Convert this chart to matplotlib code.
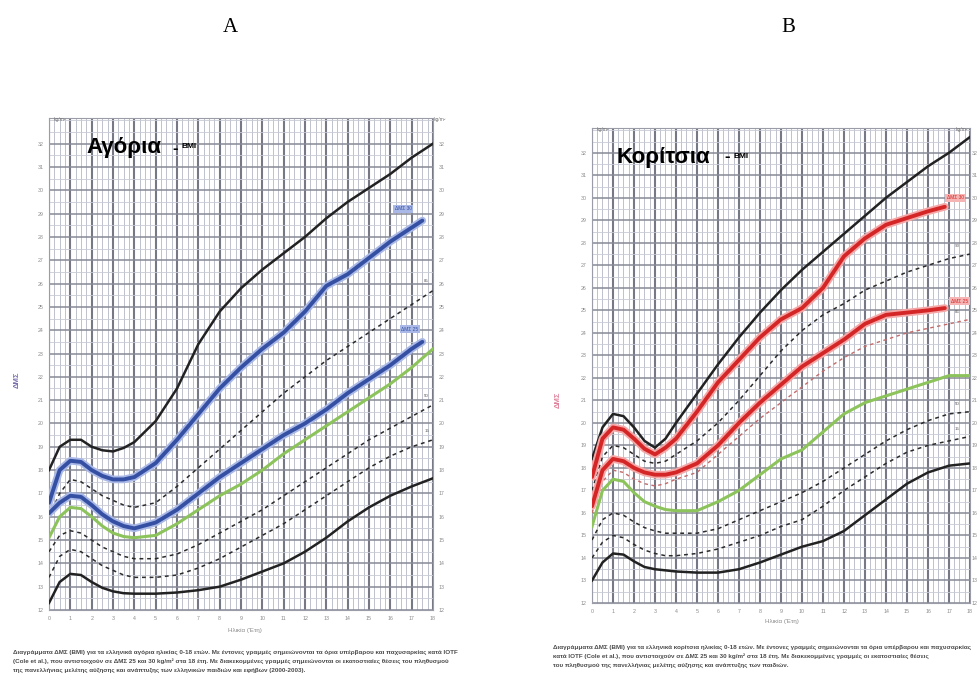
import matplotlib
matplotlib.use("Agg")
import matplotlib.pyplot as plt
import matplotlib.patheffects as pe
from matplotlib.ticker import MultipleLocator

W, H = 979, 692

# ages (years) shared by the percentile curves
ages = [0, 0.5, 1, 1.5, 2, 2.5, 3, 3.5, 4, 5, 6, 7, 8, 9, 10, 11, 12, 13, 14, 15, 16, 17, 18]
ages_iotf_boys = [0, 0.5, 1, 1.5, 2, 2.5, 3, 3.5, 4, 5, 6, 7, 8, 9, 10, 11, 12, 13, 14, 15, 16, 17, 17.5]
ages_iotf_girls = [0, 0.5, 1, 1.5, 2, 2.5, 3, 3.5, 4, 5, 6, 7, 8, 9, 10, 11, 12, 13, 14, 15, 16, 16.8]

bmi_ticks = list(range(12, 33))
age_ticks = list(range(0, 19))

# --- boys (A) ---
boys_p97 = [18.0, 19.0, 19.3, 19.3, 19.0, 18.85, 18.8, 18.95, 19.2, 20.1, 21.5, 23.4, 24.8, 25.8,
            26.6, 27.3, 28.0, 28.8, 29.5, 30.1, 30.7, 31.4, 32.0]
boys_iotf30 = [16.6, 18.0, 18.4, 18.35, 18.0, 17.75, 17.6, 17.6, 17.7, 18.3, 19.3, 20.4, 21.5, 22.4,
               23.2, 23.9, 24.8, 25.9, 26.4, 27.1, 27.8, 28.4, 28.7]
boys_p85 = [16.0, 17.0, 17.6, 17.5, 17.2, 16.9, 16.7, 16.5, 16.4, 16.6, 17.3, 18.1, 18.9, 19.7,
            20.5, 21.3, 22.0, 22.7, 23.3, 23.9, 24.5, 25.1, 25.7]
boys_iotf25 = [16.15, 16.6, 16.9, 16.85, 16.5, 16.1, 15.8, 15.6, 15.5, 15.75, 16.3, 17.0, 17.7, 18.3,
               18.9, 19.5, 20.0, 20.6, 21.3, 21.9, 22.5, 23.2, 23.5]
boys_green = [15.1, 16.0, 16.4, 16.35, 16.0, 15.6, 15.3, 15.15, 15.1, 15.2, 15.7, 16.3, 16.9, 17.4,
              18.0, 18.7, 19.3, 19.9, 20.5, 21.1, 21.7, 22.4, 23.2]
boys_p50 = [14.5, 15.2, 15.4, 15.3, 15.0, 14.7, 14.5, 14.3, 14.2, 14.2, 14.4, 14.8, 15.3, 15.8,
            16.3, 16.9, 17.5, 18.1, 18.7, 19.3, 19.8, 20.3, 20.8]
boys_p15 = [13.4, 14.3, 14.6, 14.5, 14.2, 13.9, 13.7, 13.5, 13.4, 13.4, 13.5, 13.8, 14.2, 14.7,
            15.2, 15.7, 16.3, 16.9, 17.5, 18.1, 18.6, 19.0, 19.3]
boys_p3 = [12.3, 13.2, 13.55, 13.5, 13.2, 12.95, 12.8, 12.72, 12.7, 12.7, 12.75, 12.85, 13.0, 13.3,
           13.65, 14.0, 14.5, 15.1, 15.8, 16.4, 16.9, 17.3, 17.65]

# --- girls (B) ---
girls_p97 = [18.4, 19.8, 20.4, 20.3, 19.8, 19.2, 18.9, 19.3, 20.0, 21.3, 22.6, 23.8, 24.9, 25.9,
             26.8, 27.6, 28.4, 29.2, 30.0, 30.7, 31.4, 32.0, 32.7]
girls_iotf30 = [17.6, 19.3, 19.8, 19.7, 19.3, 18.85, 18.6, 18.9, 19.3, 20.5, 21.8, 22.8, 23.8, 24.6,
                25.1, 26.0, 27.4, 28.2, 28.8, 29.1, 29.4, 29.6]
girls_p90 = [17.0, 18.5, 19.0, 18.9, 18.6, 18.3, 18.2, 18.3, 18.6, 19.2, 20.0, 21.0, 22.1, 23.2,
             24.1, 24.8, 25.3, 25.9, 26.3, 26.7, 27.0, 27.3, 27.5]
girls_iotf25 = [16.3, 17.9, 18.4, 18.3, 18.0, 17.8, 17.7, 17.7, 17.8, 18.2, 19.0, 20.0, 20.9, 21.7,
                22.5, 23.1, 23.7, 24.4, 24.8, 24.9, 25.0, 25.1]
girls_p85 = [16.0, 17.4, 17.9, 17.8, 17.5, 17.3, 17.2, 17.3, 17.5, 17.8, 18.6, 19.4, 20.2, 20.9,
             21.6, 22.3, 22.9, 23.4, 23.7, 24.0, 24.2, 24.4, 24.6]
girls_green = [15.4, 17.0, 17.5, 17.4, 16.9, 16.5, 16.3, 16.15, 16.1, 16.1, 16.5, 17.0, 17.7, 18.4,
               18.8, 19.6, 20.4, 20.9, 21.2, 21.5, 21.8, 22.1, 22.1]
girls_p50 = [14.8, 15.7, 16.0, 15.9, 15.6, 15.35, 15.2, 15.1, 15.1, 15.1, 15.3, 15.7, 16.1, 16.5,
             16.9, 17.4, 18.0, 18.6, 19.2, 19.7, 20.1, 20.4, 20.5]
girls_p15 = [14.0, 14.7, 15.0, 14.9, 14.6, 14.35, 14.2, 14.1, 14.1, 14.2, 14.4, 14.7, 15.0, 15.4,
             15.7, 16.3, 17.0, 17.6, 18.2, 18.7, 19.0, 19.2, 19.4]
girls_p3 = [13.0, 13.8, 14.2, 14.15, 13.85, 13.6, 13.5, 13.45, 13.4, 13.35, 13.35, 13.5, 13.8, 14.15,
            14.5, 14.75, 15.2, 15.9, 16.6, 17.3, 17.8, 18.1, 18.2]

note_boys = [
    "Διαγράμματα ΔΜΣ (BMI) για τα ελληνικά αγόρια ηλικίας 0-18 ετών. Με έντονες γραμμές σημειώνονται τα όρια υπέρβαρου και παχυσαρκίας κατά IOTF",
    "(Cole et al.), που αντιστοιχούν σε ΔΜΣ 25 και 30 kg/m² στα 18 έτη. Με διακεκομμένες γραμμές σημειώνονται οι εκατοστιαίες θέσεις του πληθυσμού",
    "της πανελλήνιας μελέτης αύξησης και ανάπτυξης των ελληνικών παιδιών και εφήβων (2000-2003).",
]
note_girls = [
    "Διαγράμματα ΔΜΣ (BMI) για τα ελληνικά κορίτσια ηλικίας 0-18 ετών. Με έντονες γραμμές σημειώνονται τα όρια υπέρβαρου και παχυσαρκίας",
    "κατά IOTF (Cole et al.), που αντιστοιχούν σε ΔΜΣ 25 και 30 kg/m² στα 18 έτη. Με διακεκομμένες γραμμές οι εκατοστιαίες θέσεις",
    "του πληθυσμού της πανελλήνιας μελέτης αύξησης και ανάπτυξης των παιδιών.",
]

plt.rcParams['font.family'] = ['Liberation Sans', 'DejaVu Sans']


def px_rect(left, top, right, bottom):
    return [left / W, 1 - bottom / H, (right - left) / W, (bottom - top) / H]


def setup_grid(ax, right_pad=4):
    ax.set_xlim(0, 18)
    ax.set_ylim(12, 33.1)
    ax.xaxis.set_major_locator(MultipleLocator(1))
    ax.xaxis.set_minor_locator(MultipleLocator(0.25))
    ax.yaxis.set_major_locator(MultipleLocator(1))
    ax.yaxis.set_minor_locator(MultipleLocator(0.5))
    ax.xaxis.grid(which='major', color='#767985', lw=1.5, zorder=0)
    ax.xaxis.grid(which='minor', color='#bfc2cc', lw=0.7, zorder=0)
    ax.yaxis.grid(which='major', color='#878a96', lw=1.1, zorder=0)
    ax.yaxis.grid(which='minor', color='#c8cbd4', lw=0.6, zorder=0)
    ax.set_xticks(age_ticks)
    ax.set_xticklabels([str(a) for a in age_ticks])
    ax.set_yticks(bmi_ticks)
    ax.set_yticklabels([str(b) for b in bmi_ticks])
    ax.tick_params(which='both', length=0, labelsize=3.8, labelcolor='#8a8a8a', pad=4)
    for s in ax.spines.values():
        s.set_color('#9a9da8')
        s.set_linewidth(0.8)
    ax.set_facecolor('white')
    # mirrored BMI scale on the right
    ax2 = ax.twinx()
    ax2.set_ylim(12, 33.1)
    ax2.set_yticks(bmi_ticks)
    ax2.set_yticklabels([str(b) for b in bmi_ticks])
    ax2.tick_params(length=0, labelsize=3.8, labelcolor='#8a8a8a', pad=right_pad)
    for s in ax2.spines.values():
        s.set_visible(False)


def thick(ax, x, y, color, halo):
    ax.plot(x, y, color=color, lw=2.8, solid_capstyle='round', zorder=4,
            path_effects=[pe.Stroke(linewidth=5.5, foreground=halo), pe.Normal()])


def dashed(ax, x, y, color='#2a2a2a', lw=1.1):
    ax.plot(x, y, color=color, lw=lw, ls=(0, (2.5, 2.5)), zorder=3)


fig = plt.figure(figsize=(W / 100, H / 100), dpi=100)

fig.text(230 / W, 1 - 28 / H, "A", ha='center', va='center', fontsize=15,
         family=['Liberation Serif', 'DejaVu Serif'])
fig.text(788 / W, 1 - 28 / H, "B", ha='center', va='center', fontsize=15,
         family=['Liberation Serif', 'DejaVu Serif'])

# ---------- boys ----------
axb = fig.add_axes(px_rect(49, 118, 433, 610))
setup_grid(axb)
axb.plot(ages, boys_p97, color='#222222', lw=1.8, zorder=4)
dashed(axb, ages, boys_p85)
dashed(axb, ages, boys_p50)
dashed(axb, ages, boys_p15)
axb.plot(ages, boys_green, color='#8cc35a', lw=2.2, zorder=4)
axb.plot(ages, boys_p3, color='#222222', lw=1.8, zorder=4)
thick(axb, ages_iotf_boys, boys_iotf30, '#3550a3', '#a9b8e6')
thick(axb, ages_iotf_boys, boys_iotf25, '#3550a3', '#a9b8e6')
axb.text(16.6, boys_iotf30[-1] + 0.5, "ΔΜΣ 30", fontsize=3.5, color='#3550a3',
         ha='center', va='center', zorder=6,
         bbox=dict(boxstyle='square,pad=0.3', fc='#a9b8e6', ec='none'))
axb.text(16.9, boys_iotf25[-1] + 0.55, "ΔΜΣ 25", fontsize=3.5, color='#3550a3',
         ha='center', va='center', zorder=6,
         bbox=dict(boxstyle='square,pad=0.3', fc='#a9b8e6', ec='none'))
for lbl, curve in [("85", boys_p85), ("50", boys_p50), ("15", boys_p15)]:
    axb.text(17.7, curve[-1] + 0.35, lbl, fontsize=3.2, color='#555555', ha='center', zorder=6)
fig.text(86 / W, 1 - 148 / H, "Αγόρια", fontsize=16, fontweight='bold', va='center', zorder=6)
fig.text(172 / W, 1 - 148 / H, "-", fontsize=12, fontweight='bold', va='center', zorder=6)
fig.text(182 / W, 1 - 147 / H, "BMI", fontsize=6, fontweight='bold', va='center', zorder=6)
fig.text(60 / W, 1 - 121 / H, "kg/m²", fontsize=3.5, color='#777777', ha='center')
fig.text(440 / W, 1 - 121 / H, "kg/m²", fontsize=3.5, color='#777777', ha='center')
fig.text(17 / W, 1 - 380 / H, "ΔΜΣ", fontsize=5.5, fontweight='bold', color='#7b6fae',
         rotation=90, ha='center', va='center')
fig.text(245 / W, 1 - 632 / H, "Ηλικία (Έτη)", fontsize=4.5, color='#8a8a8a', ha='center')
for i, line in enumerate(note_boys):
    fig.text(13 / W, 1 - (652 + 9.3 * i) / H, line, fontsize=4.5, fontweight='bold',
             color='#4a4a4a', va='center')

# ---------- girls ----------
axg = fig.add_axes(px_rect(592, 128, 970, 603))
setup_grid(axg, right_pad=1)
axg.plot(ages, girls_p97, color='#222222', lw=1.8, zorder=4)
dashed(axg, ages, girls_p90)
dashed(axg, ages, girls_p85, color='#c46a6a', lw=1.0)
dashed(axg, ages, girls_p50)
dashed(axg, ages, girls_p15)
axg.plot(ages, girls_green, color='#8cc35a', lw=2.2, zorder=4)
axg.plot(ages, girls_p3, color='#222222', lw=1.8, zorder=4)
thick(axg, ages_iotf_girls, girls_iotf30, '#d42626', '#f5a7a7')
thick(axg, ages_iotf_girls, girls_iotf25, '#d42626', '#f5a7a7')
axg.text(17.3, girls_iotf30[-1] + 0.4, "ΔΜΣ 30", fontsize=3.5, color='#d42626',
         ha='center', va='center', zorder=6,
         bbox=dict(boxstyle='square,pad=0.3', fc='#f5b5b5', ec='none'))
axg.text(17.5, girls_iotf25[-1] + 0.3, "ΔΜΣ 25", fontsize=3.5, color='#d42626',
         ha='center', va='center', zorder=6,
         bbox=dict(boxstyle='square,pad=0.3', fc='#f5b5b5', ec='none'))
for lbl, curve in [("90", girls_p90), ("85", girls_p85), ("50", girls_p50), ("15", girls_p15)]:
    axg.text(17.4, curve[-1] + 0.3, lbl, fontsize=3.2, color='#555555', ha='center', zorder=6)
fig.text(617 / W, 1 - 157 / H, "Κορίτσια", fontsize=16, fontweight='bold', va='center', zorder=6)
fig.text(724 / W, 1 - 157 / H, "-", fontsize=12, fontweight='bold', va='center', zorder=6)
fig.text(734 / W, 1 - 156 / H, "BMI", fontsize=6, fontweight='bold', va='center', zorder=6)
fig.text(603 / W, 1 - 131 / H, "kg/m²", fontsize=3.5, color='#777777', ha='center')
fig.text(962 / W, 1 - 131 / H, "kg/m²", fontsize=3.5, color='#777777', ha='center')
fig.text(558 / W, 1 - 400 / H, "ΔΜΣ", fontsize=5.5, fontweight='bold', color='#e0809a',
         rotation=90, ha='center', va='center')
fig.text(782 / W, 1 - 623 / H, "Ηλικία (Έτη)", fontsize=4.5, color='#8a8a8a', ha='center')
for i, line in enumerate(note_girls):
    fig.text(553 / W, 1 - (647 + 9.2 * i) / H, line, fontsize=4.5, fontweight='bold',
             color='#4a4a4a', va='center')

fig.savefig("out.png", dpi=100, facecolor='white')
